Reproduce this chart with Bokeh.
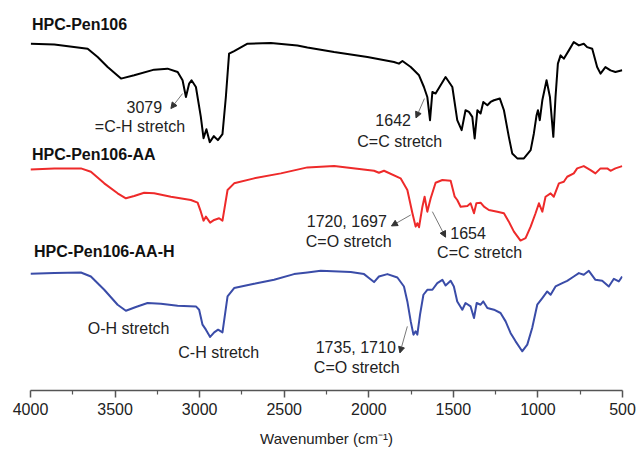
from bokeh.plotting import figure
from bokeh.models import Range1d, FixedTicker, Label, Arrow, NormalHead
from bokeh.embed import file_html
from bokeh.resources import INLINE

# ---- data (wavenumber in cm-1, transmittance in arbitrary offset units) ----
wn_pen106 = [3998, 3859, 3662, 3603, 3544, 3465, 3387, 3269, 3190, 3130, 3101, 3081, 3062, 3048, 3022,
             2993, 2977, 2960, 2940, 2916, 2892, 2865, 2845, 2826, 2796, 2717, 2579, 2422, 2363, 2205,
             2008, 1851, 1822, 1801, 1752, 1703, 1674, 1654, 1638, 1624, 1605, 1546, 1506, 1477, 1451,
             1428, 1408, 1388, 1374, 1358, 1339, 1323, 1299, 1280, 1260, 1225, 1201, 1172, 1152, 1122,
             1083, 1043, 1024, 1008, 1000, 989, 974, 949, 929, 909, 896, 882, 866, 847, 817, 788, 758,
             729, 709, 679, 650, 630, 601, 571, 542, 502]
t_pen106 = [356.7, 356, 351.7, 343.3, 333.3, 321.7, 325, 330.7, 331.7, 328.3, 320, 303.3, 316.7, 320, 313.3,
            283.3, 262, 271, 258, 264, 260, 266, 303.3, 346.7, 349.3, 356.7, 357.3, 355, 353, 348.3,
            343.3, 338.3, 336.7, 339.3, 333.3, 325, 313.3, 303.3, 280, 308.3, 306.7, 323.3, 313.3, 280, 270,
            290, 288.3, 283.3, 261.7, 290, 286.7, 298.3, 295, 298.3, 300, 301.7, 290, 263.3, 246.7, 241.7,
            241.7, 250, 266.7, 285, 290, 280, 300, 320, 303.3, 263.3, 303.3, 336.7, 345, 341.7, 350, 358.3, 355,
            356.7, 353.3, 351.7, 333.3, 326.7, 333.3, 330, 328.3, 330]

wn_aa = [4000, 3859, 3702, 3643, 3564, 3485, 3436, 3387, 3328, 3269, 3170, 3052, 3012, 2993, 2977, 2963,
         2938, 2914, 2885, 2865, 2835, 2796, 2678, 2520, 2363, 2205, 1969, 1940, 1910, 1812, 1772, 1742,
         1723, 1713, 1703, 1683, 1670, 1654, 1634, 1605, 1565, 1516, 1492, 1477, 1457, 1417, 1398, 1378,
         1364, 1339, 1319, 1290, 1240, 1201, 1172, 1142, 1103, 1073, 1043, 1014, 994, 974, 955, 925, 906,
         876, 847, 827, 788, 768, 729, 689, 660, 630, 590, 571, 542, 502]
t_aa = [230.7, 231.7, 231.7, 228.3, 216.7, 206.7, 201.7, 204, 207.3, 206.7, 203.3, 200, 197.3, 188.3, 179.3, 183.3,
        177.3, 180, 181.7, 179.3, 210, 216.7, 221.7, 226.7, 232.7, 234, 229.3, 227.3, 229.3, 221.7, 210, 186.7,
        173.3, 176.7, 172.7, 193.3, 203.3, 188.3, 201.7, 217.3, 220, 219.3, 203.3, 200, 193.3, 194, 196.7, 186.7,
        196.7, 197.3, 193.3, 190, 188.3, 186.7, 178.3, 168.3, 159.3, 161.7, 173.3, 186.7, 196.7, 188.3, 203.3, 206.7, 203.3,
        216.7, 218.3, 223.3, 226.7, 231.7, 234, 230, 226.7, 231.7, 231.7, 229.3, 231.7, 234]

wn_aah = [4000, 3859, 3702, 3643, 3564, 3485, 3436, 3377, 3308, 3229, 3130, 3022, 3003, 2983, 2963, 2938,
          2914, 2891, 2865, 2835, 2796, 2678, 2560, 2442, 2363, 2284, 2107, 2028, 1999, 1969, 1940, 1890,
          1831, 1792, 1772, 1752, 1736, 1723, 1713, 1697, 1677, 1654, 1624, 1595, 1565, 1546, 1516, 1497,
          1477, 1447, 1428, 1398, 1378, 1362, 1339, 1323, 1299, 1260, 1221, 1191, 1162, 1132, 1093, 1063,
          1034, 1004, 974, 945, 925, 896, 856, 827, 788, 758, 729, 699, 660, 620, 581, 551, 522, 502]
t_aah = [126, 126.7, 127.3, 123.3, 110, 95, 89, 92.7, 96.7, 96, 94, 93.3, 90, 75, 70, 62.7,
         67.3, 70, 67.3, 103.3, 111.7, 116, 120, 125.7, 127.3, 129, 127.7, 125.7, 121.7, 117.7, 123.3, 125.7,
         122.3, 113.3, 98.3, 78.3, 65, 68.3, 65, 85, 105, 110, 110, 116.7, 120, 114.3, 119, 113.3,
         98.3, 90, 96.7, 93.3, 81.7, 96.7, 95, 98.3, 91.7, 90, 86.7, 78.3, 66.7, 58.3, 48.3, 55,
         71.7, 95, 101.7, 108.3, 105, 113.3, 116.7, 119, 123.3, 126.7, 125, 129, 120, 119, 113.3, 121, 118.3, 123.3]

series_names = ["HPC-Pen106", "HPC-Pen106-AA", "HPC-Pen106-AA-H"]
series_colors = ["#000000", "#ee2a2a", "#3a4ca8"]

major_ticks = [4000, 3500, 3000, 2500, 2000, 1500, 1000, 500]
minor_ticks = [3750, 3250, 2750, 2250, 1750, 1250, 750]

FONT = "Liberation Sans"

p = figure(width=636, height=449, output_backend="svg", toolbar_location=None,
           x_range=Range1d(4000, 500), y_range=Range1d(9, 392),
           min_border_left=30, min_border_right=14, min_border_top=8, min_border_bottom=58)
p.outline_line_color = None
p.grid.visible = False
p.yaxis.visible = False
p.background_fill_color = "white"

xa = p.xaxis[0]
xa.ticker = FixedTicker(ticks=major_ticks, minor_ticks=minor_ticks)
xa.axis_line_color = "#555555"
xa.axis_line_width = 1.5
xa.major_tick_line_color = "#555555"
xa.major_tick_line_width = 1.5
xa.minor_tick_line_color = "#555555"
xa.minor_tick_line_width = 1.2
xa.major_tick_in = 0
xa.major_tick_out = 7
xa.minor_tick_in = 0
xa.minor_tick_out = 4
xa.major_label_text_font = FONT
xa.major_label_text_font_size = "16px"
xa.major_label_text_color = "#222222"
xa.major_label_standoff = 5
xa.axis_label = "Wavenumber (cm⁻¹)"
xa.axis_label_text_font = FONT
xa.axis_label_text_font_size = "15px"
xa.axis_label_text_font_style = "normal"
xa.axis_label_text_color = "#222222"
xa.axis_label_standoff = 12

for wn, t, c in [(wn_pen106, t_pen106, series_colors[0]),
                 (wn_aa, t_aa, series_colors[1]),
                 (wn_aah, t_aah, series_colors[2])]:
    p.line(wn, t, line_color=c, line_width=2, line_join="round")

# series names
for name, (x, y) in zip(series_names, [(3991, 376), (3991, 246), (3979, 148.3)]):
    p.add_layout(Label(x=x, y=y, text=name, text_font=FONT, text_font_size="16px",
                       text_font_style="bold", text_color="#111111",
                       text_align="left", text_baseline="middle"))

# annotations
annotations = [
    ("3079", 3327, 293), ("=C-H stretch", 3353, 274),
    ("1642", 1856, 280), ("C=C stretch", 1817, 259),
    ("1720, 1697", 2130, 178.3), ("C=O stretch", 2119, 158.3),
    ("1654", 1413, 166.7), ("C=C stretch", 1345, 147.3),
    ("O-H stretch", 3420, 70.7), ("C-H stretch", 2887, 46.7),
    ("1735, 1710", 2077, 51.7), ("C=O stretch", 2071, 31.7),
]
for txt, x, y in annotations:
    p.add_layout(Label(x=x, y=y, text=txt, text_font=FONT, text_font_size="16px",
                       text_color="#222222", text_align="center", text_baseline="middle"))

arrows = [
    (3101, 306.7, 3170, 291.7),
    (1671, 301.7, 1721, 282.3),
    (1752, 185, 1866, 174),
    (1624, 188.3, 1546, 162.7),
    (1772, 73.3, 1816, 46.7),
]
for xs, ys, xe, ye in arrows:
    p.add_layout(Arrow(end=NormalHead(size=6, fill_color="#333333", line_color="#333333", line_width=1),
                       x_start=xs, y_start=ys, x_end=xe, y_end=ye,
                       line_color="#555555", line_width=0.8))

open("out.html", "w").write(file_html(p, INLINE))
